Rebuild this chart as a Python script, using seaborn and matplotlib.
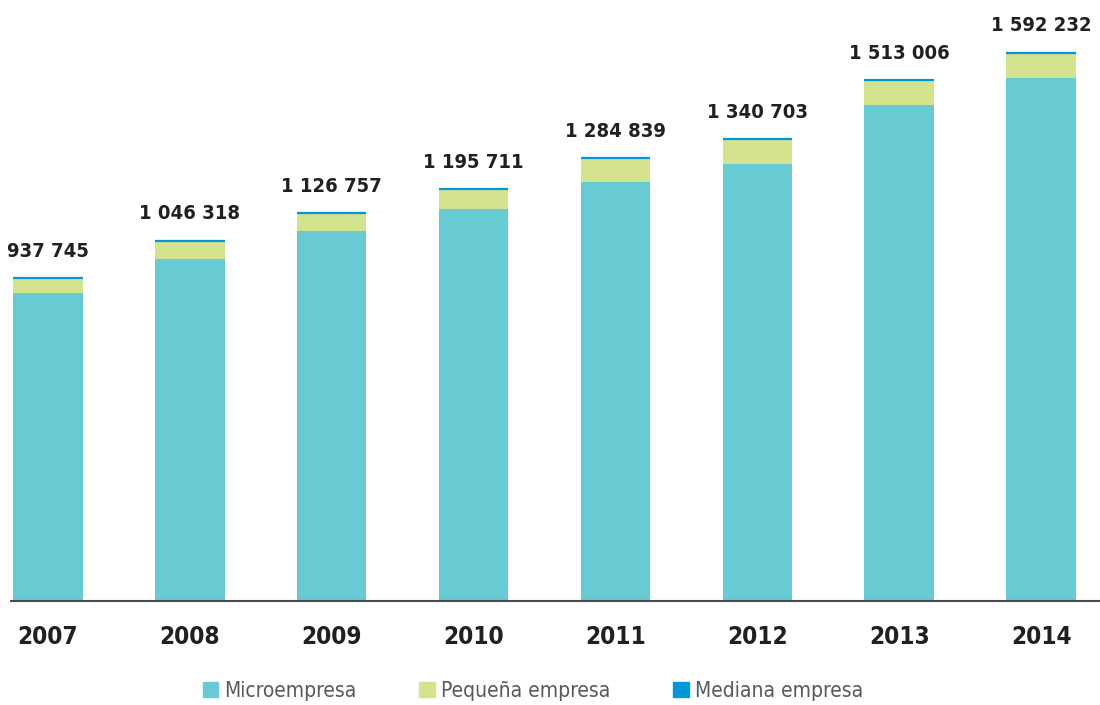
import pandas as pd
import matplotlib.pyplot as plt
import seaborn as sns
from matplotlib.patches import Patch

years = ['2007', '2008', '2009', '2010', '2011', '2012', '2013', '2014']
micro = [895500, 992000, 1074500, 1139200, 1216000, 1270009, 1439778, 1518284]
pequena = [40000, 52000, 49900, 54200, 66000, 68243, 70708, 71313]
mediana = [2245, 2318, 2357, 2311, 2839, 2451, 2520, 2635]
total_labels = ['937 745', '1 046 318', '1 126 757', '1 195 711',
                '1 284 839', '1 340 703', '1 513 006', '1 592 232']

df = pd.DataFrame({'year': years, 'micro': micro, 'pequena': pequena, 'mediana': mediana})
df['micro_peq'] = df['micro'] + df['pequena']
df['total'] = df['micro_peq'] + df['mediana']

c_micro = '#68CAD2'
c_peq = '#D4E38D'
c_med = '#0098DA'

sns.set_theme(style="white")
plt.rcParams['font.family'] = ['DejaVu Sans']
plt.rcParams['font.stretch'] = 'condensed'

fig = plt.figure(figsize=(11, 7.05), dpi=100)
ax = fig.add_axes([0.01, 104 / 705, 0.99, 601 / 705])

# stacked bars: draw cumulative heights from top layer down
sns.barplot(data=df, x='year', y='total', color=c_med, width=0.49, saturation=1,
            linewidth=0, ax=ax)
sns.barplot(data=df, x='year', y='micro_peq', color=c_peq, width=0.49, saturation=1,
            linewidth=0, ax=ax)
sns.barplot(data=df, x='year', y='micro', color=c_micro, width=0.49, saturation=1,
            linewidth=0, ax=ax)

# mediana layer is very thin, give it a visible stroke on top
for bar in ax.containers[0]:
    ax.hlines(bar.get_height(), bar.get_x(), bar.get_x() + bar.get_width(),
              color=c_med, lw=1.6, zorder=5)

for i, (t, lab) in enumerate(zip(df['total'], total_labels)):
    ax.text(i, t + 50000, lab, ha='center', va='bottom', fontsize=14.5,
            fontweight='bold', color='#231F20')

ax.set_xlim(-0.26, 7.415)
ax.set_ylim(0, 1745000)
ax.set_xlabel('')
ax.set_ylabel('')
ax.set_yticks([])
for s in ['top', 'right', 'left']:
    ax.spines[s].set_visible(False)
ax.spines['bottom'].set_color('#4D4D4F')
ax.spines['bottom'].set_linewidth(1.5)
ax.tick_params(axis='x', length=0, pad=17)
for lbl in ax.get_xticklabels():
    lbl.set_fontsize(17.5)
    lbl.set_fontweight('bold')
    lbl.set_color('#231F20')

handles = [Patch(color=c_micro, label='Microempresa'),
           Patch(color=c_peq, label='Pequeña empresa'),
           Patch(color=c_med, label='Mediana empresa')]
fig.legend(handles=handles, loc='center', bbox_to_anchor=(533 / 1100, 1 - 691 / 705),
           ncol=3, frameon=False, fontsize=15, handlelength=0.75, handleheight=0.75,
           handletextpad=0.3, columnspacing=3.0, labelcolor='#58595B')

fig.savefig('out.png', dpi=100)
